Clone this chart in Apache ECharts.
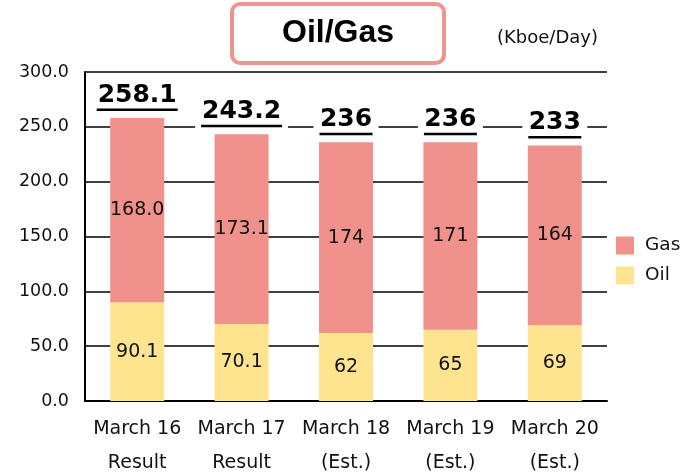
<!DOCTYPE html>
<html>
<head>
<meta charset="utf-8">
<script src="https://cdn.jsdelivr.net/npm/echarts@6/dist/echarts.min.js"></script>
<style>
  html, body { margin: 0; padding: 0; background: #fff; }
  #chart { width: 687px; height: 473px; }
</style>
</head>
<body>
<div id="chart"></div>
<script>
const categories = ['March 16\nResult', 'March 17\nResult', 'March 18\n(Est.)', 'March 19\n(Est.)', 'March 20\n(Est.)'];
const oil = [90.1, 70.1, 62, 65, 69];
const gas = [168.0, 173.1, 174, 171, 164];
const totals = ['258.1', '243.2', '236', '236', '233'];
const oilLabels = ['90.1', '70.1', '62', '65', '69'];
const gasLabels = ['168.0', '173.1', '174', '171', '164'];

const totalValues = totals.map(Number);

const chart = echarts.init(document.getElementById('chart'));

const font = 'DejaVu Sans';

chart.setOption({
  animation: false,
  title: [
    {
      text: 'Oil/Gas',
      left: 232,
      top: 4,
      padding: [12, 50, 12, 50],
      borderColor: '#F1938E',
      borderWidth: 4,
      borderRadius: 8,
      backgroundColor: '#fff',
      textStyle: {
        fontFamily: 'Liberation Sans',
        fontWeight: 'bold',
        fontSize: 32,
        lineHeight: 35,
        color: '#000'
      }
    },
    {
      text: '(Kboe/Day)',
      left: 497,
      top: 29,
      padding: 0,
      textStyle: { fontFamily: font, fontWeight: 'normal', fontSize: 18, color: '#111' }
    }
  ],
  legend: {
    data: ['Gas', 'Oil'],
    orient: 'vertical',
    left: 616,
    top: 236,
    padding: 0,
    itemWidth: 18,
    itemHeight: 18,
    itemGap: 11,
    icon: 'rect',
    textStyle: { fontFamily: font, fontSize: 18.5, color: '#111', padding: [0, 0, 0, 6] }
  },
  grid: { left: 85, right: 80, top: 72, bottom: 72, outerBoundsMode: 'none' },
  xAxis: {
    type: 'category',
    data: categories,
    axisLine: { lineStyle: { color: '#000', width: 2 } },
    axisTick: { inside: true, length: 6, lineStyle: { color: '#000', width: 1.5 } },
    axisLabel: {
      interval: 0,
      hideOverlap: false,
      fontFamily: font,
      fontSize: 19,
      color: '#111',
      lineHeight: 34,
      margin: 11
    }
  },
  yAxis: {
    type: 'value',
    min: 0,
    max: 300,
    interval: 50,
    axisLine: { show: true, lineStyle: { color: '#000', width: 2 } },
    axisTick: { show: false },
    splitLine: { lineStyle: { color: '#000', width: 1.5 } },
    axisLabel: {
      fontFamily: font,
      fontSize: 17.5,
      color: '#111',
      margin: 16,
      formatter: v => v.toFixed(1)
    }
  },
  series: [
    {
      name: 'Oil',
      type: 'bar',
      stack: 'prod',
      barWidth: 54,
      data: oil,
      itemStyle: { color: '#FFE48F' },
      label: {
        show: true,
        position: 'inside',
        fontFamily: font,
        fontSize: 19,
        color: '#111',
        formatter: p => oilLabels[p.dataIndex]
      }
    },
    {
      name: 'Gas',
      type: 'bar',
      stack: 'prod',
      barWidth: 54,
      data: gas,
      itemStyle: { color: '#F1918B' },
      label: {
        show: true,
        position: 'inside',
        fontFamily: font,
        fontSize: 19,
        color: '#111',
        formatter: p => gasLabels[p.dataIndex]
      }
    },
    {
      name: 'Total',
      type: 'bar',
      barWidth: 54,
      barGap: '-100%',
      data: totalValues,
      itemStyle: { color: 'rgba(0,0,0,0)' },
      z: 5,
      label: {
        show: true,
        position: 'top',
        distance: 2,
        backgroundColor: '#fff',
        padding: [2, 6, 5, 6],
        formatter: p => '{t|' + totals[p.dataIndex] + '}\n{u' + totals[p.dataIndex].length + '|}',
        rich: {
          t: { fontFamily: font, fontWeight: 'bold', fontSize: 25, lineHeight: 26, color: '#000', align: 'center' },
          u3: { width: 53, height: 2.5, backgroundColor: '#000', align: 'center' },
          u5: { width: 81, height: 2.5, backgroundColor: '#000', align: 'center' }
        }
      }
    }
  ]
});
</script>
</body>
</html>
